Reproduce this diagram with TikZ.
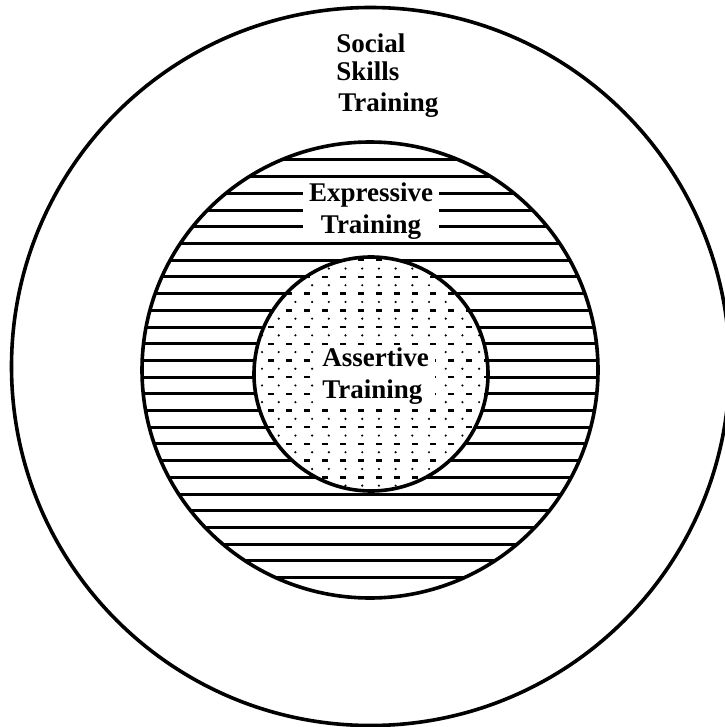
\documentclass[tikz,border=0pt]{standalone}
\usepackage{fontspec}
\setmainfont{Liberation Serif}
\begin{document}
\begin{tikzpicture}[x=0.5pt,y=-0.5pt,
  ring/.style={line width=1.8pt, draw=black},
  hatch/.style={line width=1.5pt},
  innerhatch/.style={line width=1.2pt, dash pattern=on 3pt off 6pt},
  lbl/.style={font=\fontsize{13.5}{16}\selectfont\bfseries, inner sep=0pt},
  boxlbl/.style={lbl, fill=white, inner xsep=3pt, inner ysep=1pt},
  ]
\useasboundingbox (0,0) rectangle (724,727);
\coordinate (co) at (370.5,366.5);
\coordinate (cm) at (370,370);
\coordinate (ci) at (371,374);
% hatching of the middle ring
\begin{scope}
  \clip (cm) circle (228);
  \foreach \k in {1,...,26}
    \draw[hatch] (130,{143.3+16.7*\k}) -- (610,{143.3+16.7*\k});
\end{scope}
% stippled inner disc
\fill[white] (ci) circle (117);
\begin{scope}
  \clip (ci) circle (117);
  \foreach \k in {7,...,21}
    \draw[innerhatch] (250,{143.3+16.7*\k}) -- (495,{143.3+16.7*\k});
  \foreach \i in {0,...,14}
    \foreach \k in {7,...,21}
      \fill ({262+16.7*\i},{151.65+16.7*\k}) circle (1.2);
\end{scope}
% circles
\draw[ring] (co) circle (359);
\draw[ring] (cm) circle (228);
\draw[ring] (ci) circle (117);
% labels
\node[lbl, anchor=base west] (soc1) at (336,53) {Social};
\node[lbl, anchor=base west] (soc2) at (336,81) {Skills};
\node[lbl, anchor=base west] (soc3) at (338,112) {Training};
\node[boxlbl, align=center] (expr) at (371,211) {Expressive\\Training};
\node[boxlbl, align=left, anchor=west] (asrt) at (316,376) {Assertive\\Training};
\end{tikzpicture}
\end{document}
